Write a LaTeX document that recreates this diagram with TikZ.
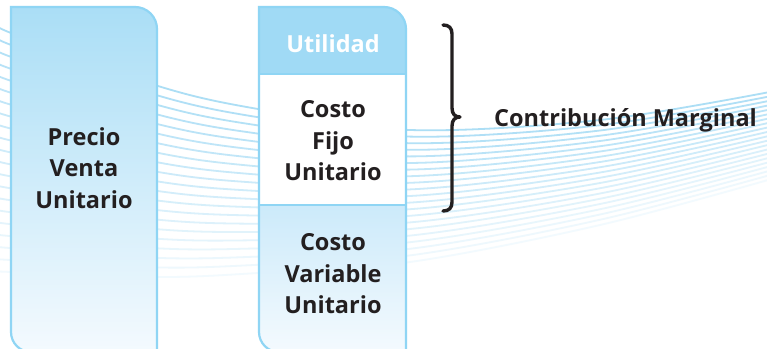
\documentclass[tikz,border=0pt]{standalone}
\usepackage{fontspec}
\setmainfont{Open Sans}

\definecolor{edgeblue}{RGB}{143,213,244}
\definecolor{shadetop}{RGB}{170,222,246}
\definecolor{shadebottom}{RGB}{244,250,254}
\definecolor{utilfill}{RGB}{160,218,245}
\definecolor{vartop}{RGB}{204,234,250}
\definecolor{wavecol}{RGB}{168,220,245}
\definecolor{ink}{RGB}{35,31,32}

% outline of a column: square top-left, rounded top-right and bottom-left
\newcommand\colpath[2]{(#1,332) -- (#1,7) -- ({#2-22},7)
  .. controls ({#2-9.85},7) and (#2,16.85) .. (#2,29) -- (#2,352) -- ({#1+20},352)
  .. controls ({#1+8.95},352) and (#1,343.05) .. (#1,332) -- cycle}

\begin{document}
\begin{tikzpicture}[x=1pt,y=-1pt,
  boxedge/.style={draw=edgeblue, line width=2.2pt},
  txt/.style={font=\bfseries\fontsize{23.5}{31.5}\selectfont, text=ink, align=center, inner sep=0pt},
  wave/.style={line width=1.8pt, line cap=round},
  bracestroke/.style={draw=ink, line width=3.4pt, line cap=round, line join=round}]

\clip (0,0) rectangle (767,348);
\fill[white] (0,0) rectangle (767,348);

% flowing background ribbon of thin lines
\foreach \i in {0,...,20}{
  \pgfmathsetmacro\t{\i/20}
  \pgfmathsetmacro\ya{22+\t*(271-22)}
  \pgfmathsetmacro\yb{33+\t*(272-33)}
  \pgfmathsetmacro\yc{86+\t*(277-86)}
  \pgfmathsetmacro\yd{109+\t*(273-109)}
  \pgfmathsetmacro\ye{130+\t*(262-130)}
  \pgfmathsetmacro\yf{120+\t*(225-120)}
  \pgfmathsetmacro\yg{91+\t*(178-91)}
  \pgfmathtruncatemacro\pct{95-80*\t}
  \draw[wave, draw=wavecol!\pct!white] plot[smooth, tension=0.55]
    coordinates {(-5,\ya) (11,\yb) (158,\yc) (258,\yd) (410,\ye) (600,\yf) (775,\yg)};
}

% left column
\draw[boxedge, top color=shadetop, bottom color=shadebottom] \colpath{11}{157};

% right column with its three bands
\begin{scope}
  \clip \colpath{259}{406};
  \fill[white] (250,0) rectangle (420,360);
  \fill[utilfill] (250,0) rectangle (420,74);
  \shade[top color=vartop, bottom color=shadebottom] (250,205) rectangle (420,352);
\end{scope}
\draw[boxedge] \colpath{259}{406};
\coordinate (d1l) at (259,74);
\coordinate (d1r) at (406,74);
\coordinate (d2l) at (259,205);
\coordinate (d2r) at (406,205);
\draw[boxedge] (d1l) -- (d1r);
\draw[boxedge] (d2l) -- (d2r);

% labels
\node[txt] (precio) at (84,168) {Precio\\Venta\\Unitario};
\node[txt, text=white] (utilidad) at (333,44) {Utilidad};
\node[txt] (fijo) at (333,141) {Costo\\Fijo\\Unitario};
\node[txt] (variable) at (333,274) {Costo\\Variable\\Unitario};
\node[txt, anchor=base west] (margen) at (494,126) {Contribución Marginal};

% curly brace grouping the two upper bands
\coordinate (btop) at (443,25);
\coordinate (btip) at (460,117);
\coordinate (bbot) at (443,211);
\draw[bracestroke] (btop) .. controls (449,25) and (452,28) .. (452,34) -- (452,108)
  .. controls (452,114) and (455,117) .. (btip)
  .. controls (455,117) and (452,120) .. (452,126) -- (452,202)
  .. controls (452,208) and (449,211) .. (bbot);
\end{tikzpicture}
\end{document}
